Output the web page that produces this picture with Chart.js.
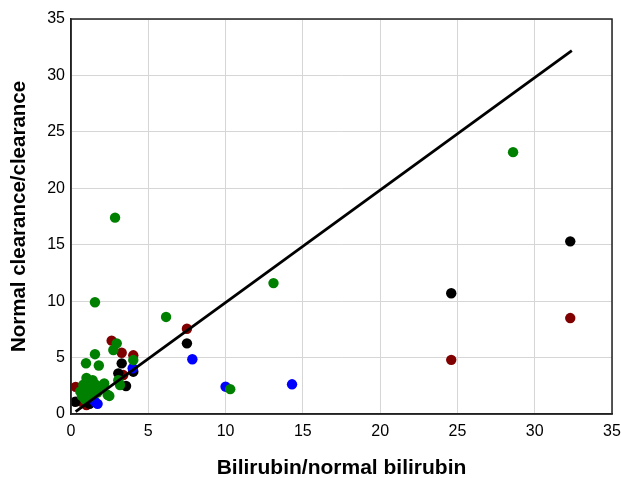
<!DOCTYPE html>
<html><head><meta charset="utf-8">
<script src="https://cdn.jsdelivr.net/npm/chart.js@4"></script>
<style>html,body{margin:0;padding:0;background:#fff}</style>
</head><body><canvas id="c" width="621" height="478" style="width:621px;height:478px;display:block"></canvas>
<script>
const xTitle = "Bilirubin/normal bilirubin";
const yTitle = "Normal clearance/clearance";
const axisTicks = [0,5,10,15,20,25,30,35];

const greenX = [28.6,13.1,10.3,6.15,2.85,1.55,2.96,2.74,4.03,1.55,0.97,1.8,3.06,3.17,2.48,2.15,2.37,
                0.6,0.8,1.0,1.2,1.4,1.6,1.9,0.7,1.0,1.3,1.7,0.9,1.2,1.5,1.1];
const greenY = [23.2,11.6,2.2,8.6,17.4,9.9,6.26,5.67,4.78,5.3,4.5,4.3,3.0,2.57,1.6,2.7,1.7,
                2.0,2.6,3.2,2.9,3.0,2.6,2.3,1.6,2.2,1.8,1.9,1.3,1.5,2.2,2.6];
const darkredX = [32.3,24.6,7.5,2.63,3.28,4.03,3.38,0.3,0.65,1.0];
const darkredY = [8.5,4.8,7.55,6.5,5.43,5.2,3.45,2.4,1.1,0.8];
const blackX = [32.3,24.6,7.5,3.28,4.03,3.06,3.56,0.28,1.2];
const blackY = [15.3,10.7,6.26,4.49,3.75,3.6,2.48,1.09,0.9];
const blueX = [14.3,10.0,7.85,3.99,1.55,1.72];
const blueY = [2.63,2.42,4.85,4.05,1.09,0.9];
const lineX = [0.3,32.4];
const lineY = [0.2,32.2];

const pts = (xs,ys)=>xs.map((x,i)=>({x, y: ys[i]}));
const FONT = "'Liberation Sans', Arial, sans-serif";

const frame = {
  id:'frame',
  afterDraw(ch){
    const a=ch.chartArea, c=ch.ctx;
    c.save(); c.strokeStyle='#222'; c.lineWidth=1.5;
    c.strokeRect(a.left,a.top,a.right-a.left,a.bottom-a.top);
    c.restore();
  }
};

const ptDs = (label,data,color)=>({type:'scatter',label,data,backgroundColor:color,borderColor:color,pointRadius:5.2,pointHoverRadius:5.2,borderWidth:0});

new Chart(document.getElementById('c'),{
  type:'scatter',
  data:{datasets:[
    {type:'line',label:'fit',data:pts(lineX,lineY),borderColor:'#000',borderWidth:2.8,pointRadius:0,fill:false,showLine:true},
    ptDs('green',pts(greenX,greenY),'#008000'),
    ptDs('blue',pts(blueX,blueY),'#0000ff'),
    ptDs('black',pts(blackX,blackY),'#000000'),
    ptDs('darkred',pts(darkredX,darkredY),'#800000'),
  ]},
  options:{
    responsive:false, animation:false, devicePixelRatio:1,
    layout:{padding:{top:19,right:9,left:0,bottom:0}},
    plugins:{legend:{display:false},tooltip:{enabled:false}},
    scales:{
      x:{type:'linear',min:0,max:35,
        afterBuildTicks(s){s.ticks=axisTicks.map(v=>({value:v}));},
        afterFit(s){s.height=64; s.paddingLeft=0; s.paddingRight=0;},
        grid:{color:'#d6d6d6',lineWidth:1,drawTicks:false},
        border:{color:'#222',width:1.5},
        ticks:{color:'#000',font:{family:FONT,size:16},padding:8,maxRotation:0},
        title:{display:true,text:xTitle,color:'#000',font:{family:FONT,size:21,weight:'bold',lineHeight:0.9},padding:0}
      },
      y:{type:'linear',min:0,max:35,
        afterBuildTicks(s){s.ticks=axisTicks.map(v=>({value:v}));},
        afterFit(s){s.width=71; s.paddingTop=0; s.paddingBottom=0;},
        grid:{color:'#d6d6d6',lineWidth:1,drawTicks:false},
        border:{color:'#222',width:1.5},
        ticks:{color:'#000',font:{family:FONT,size:16},padding:6},
        title:{display:true,text:yTitle,color:'#000',font:{family:FONT,size:20.5,weight:'bold',lineHeight:1.2},padding:{top:7,bottom:0}}
      }
    }
  },
  plugins:[frame]
});
</script>
</body></html>
